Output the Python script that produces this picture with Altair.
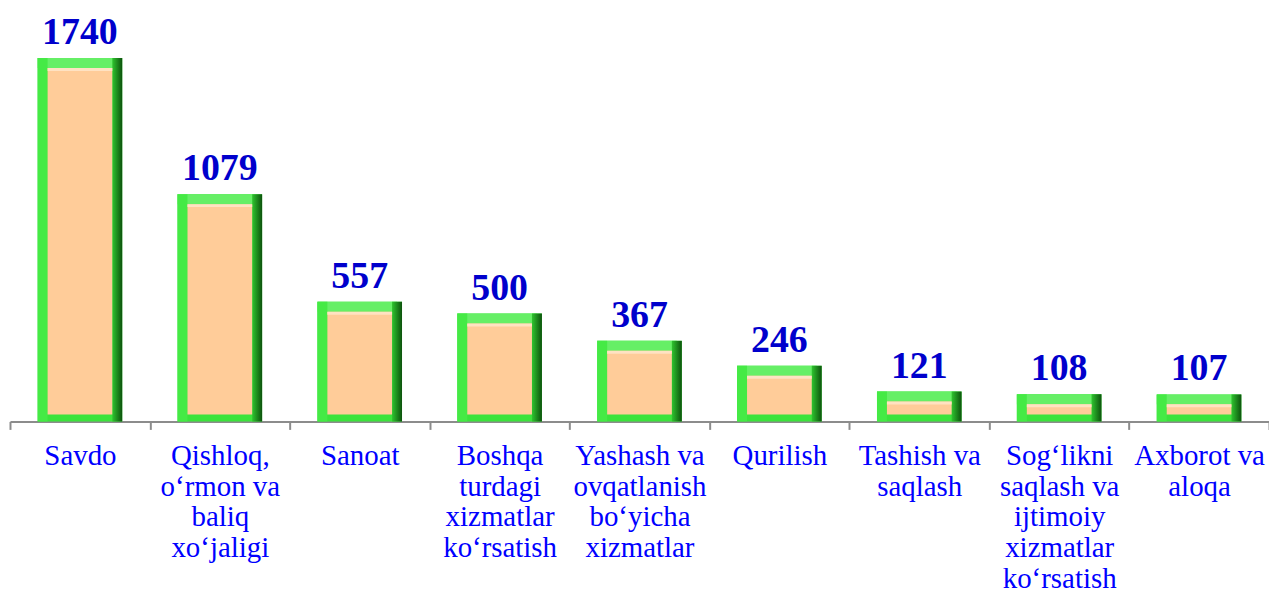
import altair as alt
import pandas as pd

categories = [
    "Savdo",
    "Qishloq,|o‘rmon  va|baliq|xo‘jaligi",
    "Sanoat",
    "Boshqa|turdagi|xizmatlar|ko‘rsatish",
    "Yashash va|ovqatlanish|bo‘yicha|xizmatlar",
    "Qurilish",
    "Tashish va|saqlash",
    "Sog‘likni|saqlash va|ijtimoiy|xizmatlar|ko‘rsatish",
    "Axborot va|aloqa",
]
values = [1740, 1079, 557, 500, 367, 246, 121, 108, 107]

df = pd.DataFrame({"cat": categories, "val": values})

x = alt.X(
    "cat:N",
    sort=categories,
    title=None,
    scale=alt.Scale(paddingInner=0, paddingOuter=0),
    axis=alt.Axis(
        labelExpr="split(datum.label, '|')",
        labelAngle=0,
        labelFont="Liberation Serif",
        labelFontSize=29,
        labelLineHeight=31,
        labelColor="#0000FF",
        labelPadding=12,
        labelOverlap=False,
        labelBound=False,
        labelLimit=300,
        domainColor="#8C8C8C",
        domainWidth=2,
        tickColor="#8C8C8C",
        tickWidth=2,
        tickSize=8,
        tickBand="extent",
        offset=5,
        grid=False,
    ),
)
y = alt.Y("val:Q", scale=alt.Scale(domain=[0, 1976], nice=False), axis=None)

base = alt.Chart(df)

outer = base.mark_bar(size=85, color="#3BE33B", y2Offset=5).encode(
    x=x, y=y, y2=alt.datum(0)
)
top_band = base.mark_bar(size=80, xOffset=-2.5, color="#66EF66", y2Offset=10).encode(
    x=x, y=y, y2=alt.Y2("val:Q")
)
left_band = base.mark_bar(size=10, xOffset=-37.5, color="#45EA45", y2Offset=5).encode(
    x=x, y=y, y2=alt.datum(0)
)
right_band = base.mark_bar(
    size=10,
    xOffset=37.5,
    y2Offset=5,
    color=alt.LinearGradient(
        gradient="linear",
        x1=0, x2=1, y1=0, y2=0,
        stops=[
            alt.GradientStop(color="#2FC42F", offset=0),
            alt.GradientStop(color="#0C520C", offset=1),
        ],
    ),
).encode(x=x, y=y, y2=alt.datum(0))
inner = base.mark_bar(size=65, color="#FFCC99", yOffset=10, y2Offset=-2).encode(
    x=x, y=y, y2=alt.datum(0)
)
inner_hi = base.mark_bar(size=65, color="#FFE2C2", yOffset=10, y2Offset=13).encode(
    x=x, y=y, y2=alt.Y2("val:Q")
)
labels = base.mark_text(
    font="Liberation Serif",
    fontSize=38,
    fontWeight="bold",
    color="#0000CC",
    baseline="alphabetic",
    dy=-14,
).encode(x=x, y=y, text=alt.Text("val:Q"))

chart = (
    alt.layer(outer, top_band, left_band, right_band, inner, inner_hi, labels)
    .properties(
        width=1265,
        height=409,
        autosize=alt.AutoSizeParams(type="none"),
        padding={"left": 2, "top": 0, "right": 0, "bottom": 179},
        background="white",
    )
    .configure_view(stroke=None)
)

chart.save("out.html", embed_options={"renderer": "svg", "actions": False})
